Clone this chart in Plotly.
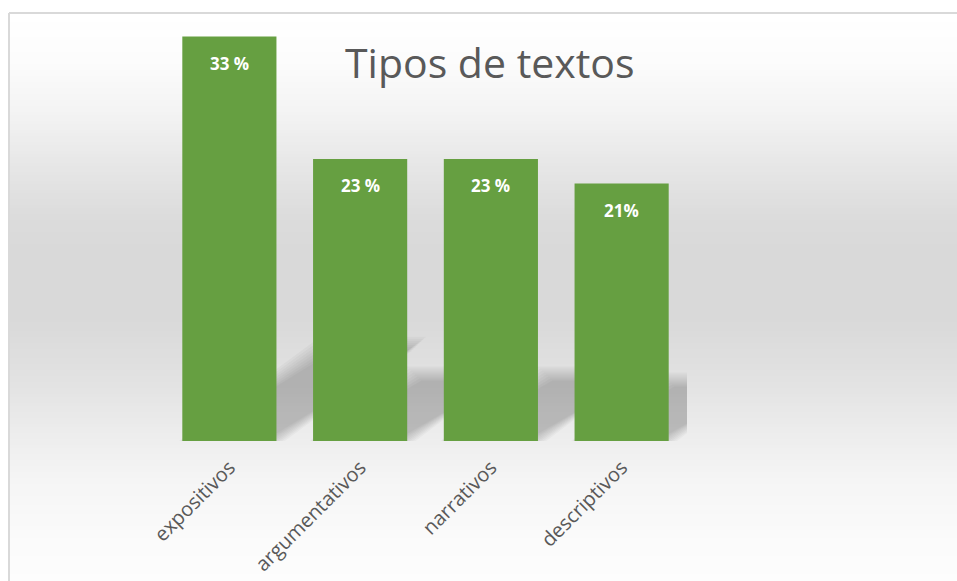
import plotly.graph_objects as go

# ---- data ----
categories = ["expositivos", "argumentativos", "narrativos", "descriptivos"]
values = [33, 23, 23, 21]
value_labels = ["33 %", "23 %", "23 %", "21%"]
title_text = "Tipos de textos"

# ---- layout geometry (pixels) ----
OFF = 0  # body margin removed via post_script
W, H = 957 - OFF, 581 - OFF
PW, PH = 523, 429
ML, MT = 164 - OFF, 12 - OFF
MR = W - ML - PW
MB = H - MT - PH
YMAX = 35
BARGAP = 0.28


def px2x(sx):
    return (sx - OFF - ML) / PW


def py2y(sy):
    return (MT + PH - (sy - OFF)) / PH


shapes = []

# background gradient (white -> gray -> white) inside chart frame
stops = [(13, 255), (60, 252), (110, 244), (160, 232), (215, 220), (250, 217),
         (320, 217), (380, 226), (430, 236), (480, 245), (530, 250), (581, 253)]


def gray_at(sy):
    for (y0, g0), (y1, g1) in zip(stops[:-1], stops[1:]):
        if y0 <= sy <= y1:
            t = (sy - y0) / (y1 - y0)
            return g0 + (g1 - g0) * t
    return stops[-1][1]


FRAME_L, FRAME_T = 9, 13
step = 3
sy = FRAME_T
while sy < 590:
    g = int(round(gray_at(sy + step / 2)))
    shapes.append(dict(type="rect", xref="paper", yref="paper", layer="below",
                       x0=px2x(FRAME_L), x1=px2x(970), y0=py2y(sy), y1=py2y(sy + step + 0.6),
                       fillcolor=f"rgb({g},{g},{g})", line=dict(width=0)))
    sy += step

# chart frame lines
shapes.append(dict(type="line", xref="paper", yref="paper", layer="above",
                   x0=px2x(FRAME_L), x1=px2x(970), y0=py2y(FRAME_T), y1=py2y(FRAME_T),
                   line=dict(color="#d9d9d9", width=2)))
shapes.append(dict(type="line", xref="paper", yref="paper", layer="above",
                   x0=px2x(FRAME_L), x1=px2x(FRAME_L), y0=py2y(FRAME_T), y1=py2y(600),
                   line=dict(color="#d9d9d9", width=2)))

# perspective shadows behind bars (derived from the values)
px_per_cat = PW / len(categories)
px_per_unit = PH / YMAX
half_w = (1 - BARGAP) / 2
for i, v in enumerate(values):
    h_px = v * px_per_unit
    dx = 0.356 * h_px / px_per_cat
    ytop = 0.243 * v
    for j in range(8):
        d = (j - 3) * 2.0
        dxc = d / px_per_cat
        dyu = d / px_per_unit
        x0l = i - half_w + dxc
        x0r = i + half_w - dxc
        yt = ytop - dyu
        path = (f"M {x0l},{dyu * 0.3} L {x0r},{dyu * 0.3} "
                f"L {x0r + dx},{yt} L {x0l + dx},{yt} Z")
        shapes.append(dict(type="path", xref="x", yref="y", layer="below", path=path,
                           fillcolor="rgba(0,0,0,0.027)", line=dict(width=0)))

fig = go.Figure()
fig.add_trace(go.Bar(
    x=categories, y=values,
    marker=dict(color="#669f41", line=dict(width=0)),
    hoverinfo="skip",
))

annotations = []
for c, v, lab in zip(categories, values, value_labels):
    annotations.append(dict(x=c, y=v, xref="x", yref="y", text=f"<b>{lab}</b>",
                            showarrow=False, yanchor="top", yshift=-13,
                            font=dict(family="Open Sans", size=17, color="#ffffff")))

annotations.append(dict(x=px2x(490), y=py2y(62), xref="paper", yref="paper",
                        text=title_text, showarrow=False, xanchor="center", yanchor="middle",
                        font=dict(family="Open Sans", size=41, color="#595959")))

fig.update_layout(
    width=W, height=H,
    margin=dict(l=ML, r=MR, t=MT, b=MB, autoexpand=False),
    paper_bgcolor="#ffffff",
    plot_bgcolor="rgba(0,0,0,0)",
    bargap=BARGAP,
    showlegend=False,
    shapes=shapes,
    annotations=annotations,
    font=dict(family="Open Sans"),
    hovermode=False,
    xaxis=dict(showgrid=False, zeroline=False, showline=False, ticks="",
               tickangle=-45, ticklabelstandoff=10,
               tickfont=dict(family="Open Sans", size=20, color="#595959"),
               range=[-0.5, len(categories) - 0.5]),
    yaxis=dict(range=[0, YMAX], showgrid=False, zeroline=False, showline=False,
               showticklabels=False, ticks=""),
)

fig.write_html(
    "out.html",
    config={"displayModeBar": False},
    post_script="document.body.style.margin='0';document.body.style.overflow='hidden';",
)
